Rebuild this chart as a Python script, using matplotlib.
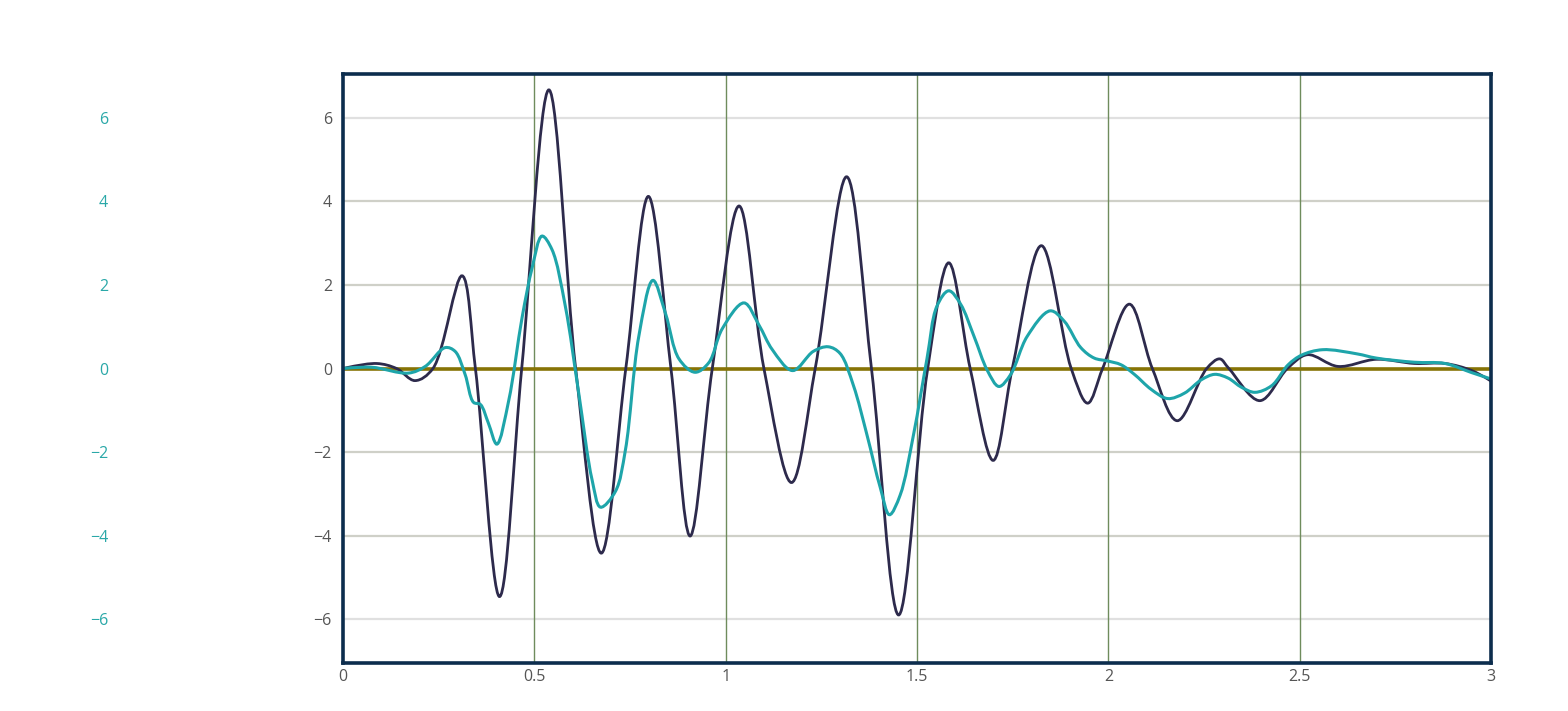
import numpy as np
import matplotlib
matplotlib.use("Agg")
import matplotlib.pyplot as plt
from matplotlib.path import Path
from matplotlib.patches import PathPatch

# dark trace (peaks, troughs and zero crossings)
t_dark = [0.0, 0.088, 0.140, 0.188, 0.235, 0.311, 0.346, 0.409, 0.467, 0.538,
          0.608, 0.675, 0.739, 0.798, 0.857, 0.907, 0.965, 1.035, 1.100, 1.172,
          1.234, 1.316, 1.381, 1.452, 1.528, 1.583, 1.639, 1.699, 1.749, 1.825,
          1.903, 1.946, 1.985, 2.055, 2.115, 2.180, 2.257, 2.291, 2.315, 2.396,
          2.468, 2.520, 2.600, 2.700, 2.800, 2.880, 2.950, 3.0]
v_dark = [0.0, 0.12, 0.0, -0.29, 0.0, 2.22, 0.0, -5.46, 0.0, 6.67,
          0.0, -4.42, 0.0, 4.12, 0.0, -4.01, 0.0, 3.89, 0.0, -2.73,
          0.0, 4.59, 0.0, -5.90, 0.0, 2.53, 0.0, -2.20, 0.0, 2.94,
          0.0, -0.83, 0.0, 1.54, 0.0, -1.25, 0.0, 0.23, 0.0, -0.77,
          0.0, 0.33, 0.05, 0.22, 0.12, 0.12, -0.05, -0.30]

# teal trace
t_teal = [0.0, 0.075, 0.171, 0.215, 0.267, 0.293, 0.319, 0.341, 0.359, 0.380,
          0.402, 0.433, 0.468, 0.494, 0.520, 0.546, 0.581, 0.616, 0.651, 0.673,
          0.712, 0.738, 0.773, 0.810, 0.843, 0.878, 0.920, 0.956, 0.991, 1.048,
          1.087, 1.122, 1.175, 1.229, 1.268, 1.299, 1.334, 1.369, 1.404, 1.428,
          1.456, 1.491, 1.526, 1.552, 1.583, 1.614, 1.649, 1.684, 1.714, 1.745,
          1.788, 1.848, 1.885, 1.928, 1.963, 1.998, 2.033, 2.068, 2.112, 2.155,
          2.199, 2.243, 2.278, 2.313, 2.348, 2.383, 2.427, 2.470, 2.505, 2.560,
          2.650, 2.700, 2.800, 2.880, 2.950, 3.0]
v_teal = [0.0, 0.03, -0.11, 0.05, 0.50, 0.41, -0.14, -0.81, -0.86, -1.31,
          -1.81, -0.77, 1.22, 2.40, 3.17, 2.85, 1.49, -0.59, -2.67, -3.32,
          -2.94, -1.95, 0.77, 2.11, 1.31, 0.23, -0.09, 0.14, 0.95, 1.57,
          1.04, 0.45, -0.05, 0.41, 0.52, 0.36, -0.41, -1.58, -2.85, -3.50,
          -3.03, -1.58, 0.23, 1.49, 1.86, 1.54, 0.77, -0.05, -0.43, -0.14,
          0.77, 1.38, 1.13, 0.50, 0.25, 0.18, 0.09, -0.14, -0.50, -0.72,
          -0.59, -0.27, -0.14, -0.23, -0.45, -0.57, -0.41, 0.09, 0.32, 0.45,
          0.35, 0.25, 0.15, 0.12, -0.10, -0.25]

y_ticks = [-6, -4, -2, 0, 2, 4, 6]
x_ticks = [0, 0.5, 1, 1.5, 2, 2.5, 3]
x_labels = ["0", "0.5", "1", "1.5", "2", "2.5", "3"]

# pixels per data unit, so the smoothing behaves like a plotly spline
SX, SY = 382.7, 42.0


def spline_path(xs, ys, smooth=1.0):
    pts = np.column_stack([np.asarray(xs) * SX, np.asarray(ys) * SY])
    tans = []
    for i in range(1, len(pts) - 1):
        d1 = pts[i - 1] - pts[i]
        d2 = pts[i + 1] - pts[i]
        d1a = np.hypot(*d1) ** 0.5
        d2a = np.hypot(*d2) ** 0.5
        num = (d2a * d2a * d1 - d1a * d1a * d2) * smooth
        den1 = 3 * d2a * (d1a + d2a)
        den2 = 3 * d1a * (d1a + d2a)
        tans.append((pts[i] + num / den1, pts[i] - num / den2))
    verts = [pts[0], tans[0][0], pts[1]]
    codes = [Path.MOVETO, Path.CURVE3, Path.CURVE3]
    for i in range(2, len(pts) - 1):
        verts += [tans[i - 2][1], tans[i - 1][0], pts[i]]
        codes += [Path.CURVE4] * 3
    verts += [tans[-1][1], pts[-1]]
    codes += [Path.CURVE3] * 2
    verts = np.array(verts) / [SX, SY]
    return Path(verts, codes)


def minus(v):
    return str(v).replace('-', '\u2212')


plt.rcParams['font.family'] = ['Open Sans', 'DejaVu Sans']

fig = plt.figure(figsize=(15.68, 7.11), dpi=100)
ax = fig.add_axes([343 / 1568, 48 / 711, 1148 / 1568, 589 / 711])
ax.set_xlim(0, 3)
ax.set_ylim(-7.05, 7.05)

for y in y_ticks:
    if y == 0:
        continue
    c = '#e0e0e0' if abs(y) == 6 else '#cfd0c8'
    ax.axhline(y, color=c, lw=1.6, zorder=1)
for x in x_ticks[1:-1]:
    ax.axvline(x, color='#6f8c5c', lw=1.0, zorder=1)
ax.axhline(0, color='#867305', lw=2.6, zorder=2)

ax.add_patch(PathPatch(spline_path(t_dark, v_dark), fill=False,
                       edgecolor='#2d2a4c', lw=2.0, zorder=3))
ax.add_patch(PathPatch(spline_path(t_teal, v_teal), fill=False,
                       edgecolor='#1ea5aa', lw=2.2, zorder=4))

for s in ax.spines.values():
    s.set_color('#0c2d4d')
    s.set_linewidth(2.6)
    s.set_zorder(5)

ax.set_xticks(x_ticks)
ax.set_xticklabels(x_labels)
ax.set_yticks(y_ticks)
ax.set_yticklabels([minus(v) for v in y_ticks])
ax.tick_params(length=0, labelsize=11.5, colors='#555555')
ax.tick_params(axis='x', pad=4)
ax.tick_params(axis='y', pad=8)

# secondary y axis on the far left
ax2 = fig.add_axes([111 / 1568, 48 / 711, 0.0005, 589 / 711])
ax2.set_ylim(-7.05, 7.05)
ax2.set_xticks([])
ax2.set_yticks(y_ticks)
ax2.set_yticklabels([minus(v) for v in y_ticks])
ax2.tick_params(length=0, labelsize=11.5, colors='#2aa8a8', pad=2)
for s in ax2.spines.values():
    s.set_visible(False)
ax2.patch.set_visible(False)

fig.savefig('out.png', dpi=100)
